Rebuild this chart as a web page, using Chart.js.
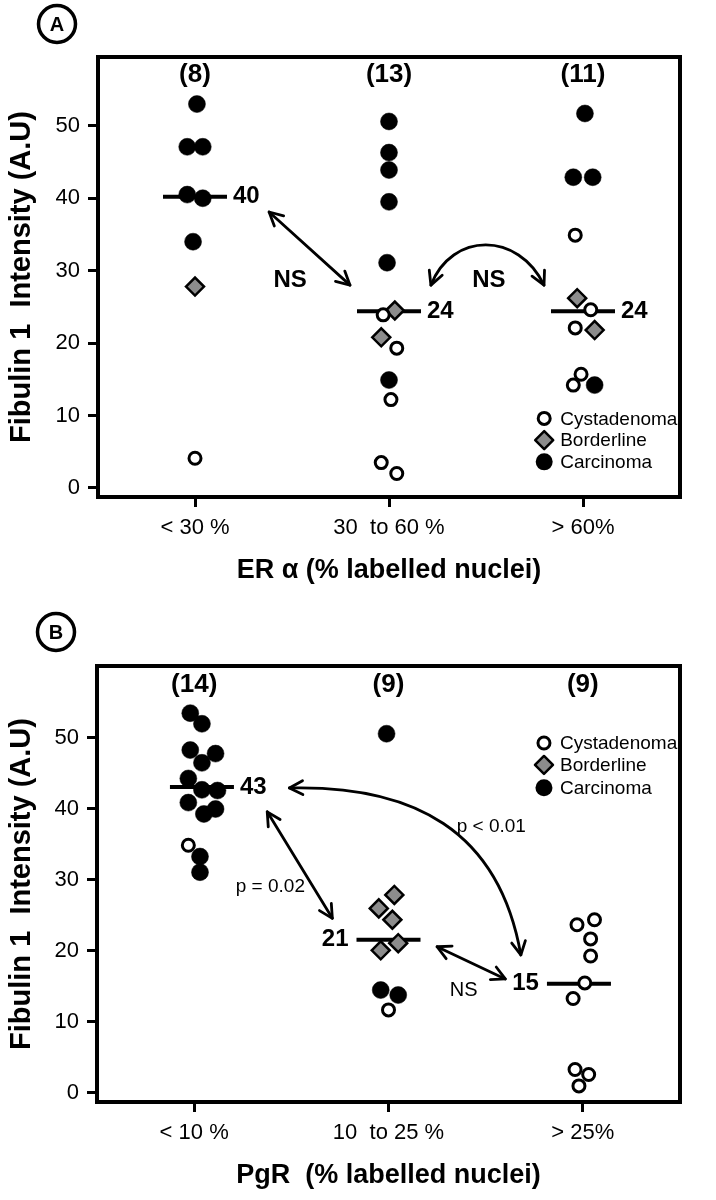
<!DOCTYPE html>
<html><head><meta charset="utf-8">
<script src="https://cdn.jsdelivr.net/npm/chart.js@4.4.1/dist/chart.umd.min.js"></script>
<style>
html,body{margin:0;padding:0;background:#fff;overflow:hidden;}
canvas{display:block;width:716px;height:600px;}
</style></head><body>
<canvas id="cA" width="716" height="600"></canvas>
<canvas id="cB" width="716" height="600"></canvas>
<script>
const FONT = "'Liberation Sans', Arial, Helvetica, sans-serif";

// ---------- Panel A : ER alpha ----------
const categoriesA = ['< 30 %', '30  to 60 %', '> 60%'];
const countsA = ['(8)', '(13)', '(11)'];
const mediansA = [40.2, 24.4, 24.4];
const medianLabelsA = ['40', '24', '24'];
const medianXA = [1.0, 2.0, 3.0];
const cystA_x = [1.00, 1.97, 2.04, 2.01, 1.96, 2.04, 2.96, 3.04, 2.96, 2.99, 2.95];
const cystA_y = [4.1, 23.9, 19.3, 12.2, 3.5, 2.0, 34.9, 24.6, 22.1, 15.7, 14.2];
const bordA_x = [1.00, 2.03, 1.96, 2.97, 3.06];
const bordA_y = [27.8, 24.5, 20.8, 26.2, 21.8];
const carcA_x = [1.01, 0.96, 1.04, 0.96, 1.04, 0.99, 2.00, 2.00, 2.00, 2.00, 1.99, 2.00, 3.01, 2.95, 3.05, 3.06];
const carcA_y = [53.0, 47.1, 47.1, 40.5, 40.0, 34.0, 50.6, 46.3, 43.9, 39.5, 31.1, 14.9, 51.7, 42.9, 42.9, 14.2];

// ---------- Panel B : PgR ----------
const categoriesB = ['< 10 %', '10  to 25 %', '> 25%'];
const countsB = ['(14)', '(9)', '(9)'];
const mediansB = [43.1, 21.6, 15.4];
const medianLabelsB = ['43', '21', '15'];
const medianXB = [1.04, 2.0, 2.98];
const cystB_x = [0.97, 2.00, 2.97, 3.06, 3.04, 3.04, 3.01, 2.95, 2.96, 3.03, 2.98];
const cystB_y = [34.9, 11.7, 23.7, 24.4, 21.7, 19.3, 15.5, 13.3, 3.3, 2.6, 1.0];
const bordB_x = [2.03, 1.95, 2.02, 1.96, 2.05];
const bordB_y = [27.9, 26.0, 24.4, 20.1, 21.1];
const carcB_x = [0.98, 1.04, 0.98, 1.11, 1.04, 0.97, 1.04, 1.12, 0.97, 1.05, 1.11, 1.03, 1.03, 1.99, 1.96, 2.05];
const carcB_y = [53.5, 52.0, 48.3, 47.8, 46.5, 44.3, 42.7, 42.6, 40.9, 39.3, 40.0, 33.3, 31.1, 50.6, 14.5, 13.8];

const yTicks = [0, 10, 20, 30, 40, 50];
const seriesNames = ['Cystadenoma', 'Borderline', 'Carcinoma'];

const zip = (xs, ys) => xs.map((x, i) => ({x: x, y: ys[i]}));

const panelA = {
  letter: 'A', letterPos: [57, 24],
  categories: categoriesA, counts: countsA, countY: 57.0,
  medians: mediansA, medianLabels: medianLabelsA, medianX: medianXA, medianSide: ['right', 'right', 'right'],
  cyst: zip(cystA_x, cystA_y), bord: zip(bordA_x, bordA_y), carc: zip(carcA_x, carcA_y),
  xTitle: 'ER \u03b1 (% labelled nuclei)', xTitlePad: 15.5,
  yMin: -1.25, yMax: 59.5, area: {left: 98, right: 711, top: 57, bottom: 497},
  legend: {x: 2.80, ys: [9.6, 6.6, 3.6]},
  arrows: [
    {type: 'line', pts: [[1.382, 38.1], [1.799, 28.0]]},
    {type: 'cubic', pts: [[2.216, 28.0], [2.324, 35.4], [2.667, 35.4], [2.799, 28.0]]}
  ],
  texts: [
    {t: 'NS', x: 1.49, y: 28.7, bold: true, size: 24},
    {t: 'NS', x: 2.515, y: 28.7, bold: true, size: 24}
  ]
};

const panelB = {
  letter: 'B', letterPos: [56, 32],
  categories: categoriesB, counts: countsB, countY: 57.5,
  medians: mediansB, medianLabels: medianLabelsB, medianX: medianXB, medianSide: ['right', 'left', 'left'],
  cyst: zip(cystB_x, cystB_y), bord: zip(bordB_x, bordB_y), carc: zip(carcB_x, carcB_y),
  xTitle: 'PgR  (% labelled nuclei)', xTitlePad: 10.5,
  yMin: -1.27, yMax: 60.14, area: {left: 97, right: 711, top: 66, bottom: 502},
  legend: {x: 2.80, ys: [49.3, 46.2, 43.0]},
  arrows: [
    {type: 'line', pts: [[1.376, 39.6], [1.711, 24.6]]},
    {type: 'cubic', pts: [[1.490, 42.96], [2.127, 43.38], [2.569, 37.04], [2.681, 19.44]]},
    {type: 'line', pts: [[2.25, 20.6], [2.601, 16.06]]}
  ],
  texts: [
    {t: 'p = 0.02', x: 1.392, y: 29.0, bold: false, size: 19},
    {t: 'p < 0.01', x: 2.529, y: 37.5, bold: false, size: 19},
    {t: 'NS', x: 2.387, y: 14.5, bold: false, size: 20}
  ]
};

function arrowHead(ctx, tx, ty, dx, dy) {
  const ang = Math.atan2(dy, dx);
  const L = 15, a = 0.48;
  ctx.beginPath();
  ctx.moveTo(tx - L * Math.cos(ang - a), ty - L * Math.sin(ang - a));
  ctx.lineTo(tx, ty);
  ctx.lineTo(tx - L * Math.cos(ang + a), ty - L * Math.sin(ang + a));
  ctx.stroke();
}

function drawMarker(ctx, kind, x, y) {
  ctx.save();
  ctx.strokeStyle = '#000';
  if (kind === 0) {
    ctx.beginPath(); ctx.arc(x, y, 6, 0, Math.PI * 2);
    ctx.fillStyle = '#fff'; ctx.fill(); ctx.lineWidth = 3; ctx.stroke();
  } else if (kind === 1) {
    ctx.beginPath(); ctx.moveTo(x, y - 9); ctx.lineTo(x + 9, y); ctx.lineTo(x, y + 9); ctx.lineTo(x - 9, y); ctx.closePath();
    ctx.fillStyle = '#8c8c8c'; ctx.fill(); ctx.lineWidth = 2.5; ctx.stroke();
  } else {
    ctx.beginPath(); ctx.arc(x, y, 8.5, 0, Math.PI * 2);
    ctx.fillStyle = '#000'; ctx.fill();
  }
  ctx.restore();
}

function makePlugin(P) {
  return {
    id: 'decor',
    afterDatasetsDraw(chart) {
      const {ctx, scales: {x, y}} = chart;
      const X = v => x.getPixelForValue(v), Y = v => y.getPixelForValue(v);
      ctx.save();
      ctx.fillStyle = '#000'; ctx.strokeStyle = '#000';
      ctx.textBaseline = 'middle';
      ctx.font = 'bold 26px ' + FONT; ctx.textAlign = 'center';
      P.counts.forEach((t, i) => ctx.fillText(t, X(i + 1), Y(P.countY)));
      ctx.font = 'bold 24px ' + FONT;
      P.medians.forEach((m, i) => {
        const cx = X(P.medianX[i]), cy = Y(m);
        if (P.medianSide[i] === 'right') { ctx.textAlign = 'left'; ctx.fillText(P.medianLabels[i], cx + 38, cy); }
        else { ctx.textAlign = 'right'; ctx.fillText(P.medianLabels[i], cx - 40, cy); }
      });
      ctx.lineWidth = 2.8; ctx.lineCap = 'round'; ctx.lineJoin = 'round';
      P.arrows.forEach(a => {
        const p = a.pts.map(q => [X(q[0]), Y(q[1])]);
        ctx.beginPath();
        ctx.moveTo(p[0][0], p[0][1]);
        if (a.type === 'line') ctx.lineTo(p[1][0], p[1][1]);
        else ctx.bezierCurveTo(p[1][0], p[1][1], p[2][0], p[2][1], p[3][0], p[3][1]);
        ctx.stroke();
        const n = p.length;
        arrowHead(ctx, p[0][0], p[0][1], p[0][0] - p[1][0], p[0][1] - p[1][1]);
        arrowHead(ctx, p[n - 1][0], p[n - 1][1], p[n - 1][0] - p[n - 2][0], p[n - 1][1] - p[n - 2][1]);
      });
      P.texts.forEach(t => {
        ctx.font = (t.bold ? 'bold ' : '') + t.size + 'px ' + FONT;
        ctx.textAlign = 'center';
        ctx.fillText(t.t, X(t.x), Y(t.y));
      });
      ctx.font = '19px ' + FONT; ctx.textAlign = 'left';
      seriesNames.forEach((s, i) => {
        const lx = X(P.legend.x), ly = Y(P.legend.ys[i]);
        drawMarker(ctx, i, lx, ly);
        ctx.fillStyle = '#000';
        ctx.fillText(s, lx + 16, ly + 1);
      });
      ctx.restore();
    },
    afterDraw(chart) {
      const {ctx, chartArea: ca} = chart;
      ctx.save();
      ctx.strokeStyle = '#000'; ctx.lineWidth = 4;
      ctx.strokeRect(ca.left, ca.top, ca.right - ca.left, ca.bottom - ca.top);
      const [cx, cy] = P.letterPos;
      ctx.beginPath(); ctx.arc(cx, cy, 18.5, 0, Math.PI * 2); ctx.lineWidth = 3.5; ctx.stroke();
      ctx.fillStyle = '#000'; ctx.font = 'bold 20px ' + FONT; ctx.textAlign = 'center'; ctx.textBaseline = 'middle';
      ctx.fillText(P.letter, cx, cy + 1);
      ctx.restore();
    }
  };
}

function build(id, P) {
  const W = 716, H = 600, A = P.area;
  const tickGrid = {display: true, drawOnChartArea: false, drawTicks: true, tickLength: 10, lineWidth: 3, color: '#000'};
  const chart = new Chart(document.getElementById(id), {
    type: 'scatter',
    data: {datasets: [
      {label: seriesNames[0], data: P.cyst, pointStyle: 'circle', pointRadius: 6, pointBorderWidth: 3,
        pointBackgroundColor: '#fff', pointBorderColor: '#000', order: 0},
      {label: seriesNames[1], data: P.bord, pointStyle: 'rectRot', pointRadius: 9, pointBorderWidth: 2.5,
        pointBackgroundColor: '#8c8c8c', pointBorderColor: '#000', order: 1},
      {label: seriesNames[2], data: P.carc, pointStyle: 'circle', pointRadius: 8.5, pointBorderWidth: 0.5,
        pointBackgroundColor: '#000', pointBorderColor: '#000', order: 2},
      {label: 'Median', data: zip(P.medianX, P.medians), pointStyle: 'line', pointRadius: 32, pointBorderWidth: 4,
        pointBorderColor: '#000', order: 3}
    ]},
    options: {
      responsive: false, maintainAspectRatio: false, animation: false, devicePixelRatio: 1, events: [],
      layout: {padding: {top: A.top, right: W - A.right, left: 0, bottom: 0}},
      plugins: {legend: {display: false}, tooltip: {enabled: false}},
      scales: {
        x: {
          type: 'linear', min: 0.5, max: 3.5,
          afterBuildTicks: s => { s.ticks = [1, 2, 3].map(v => ({value: v})); },
          afterFit: s => { s.height = H - A.bottom; s.paddingLeft = 0; s.paddingRight = 0; },
          ticks: {callback: v => P.categories[Math.round(v) - 1], font: {family: FONT, size: 22}, color: '#000',
            padding: 8, maxRotation: 0, autoSkip: false},
          grid: tickGrid, border: {display: false},
          title: {display: true, text: P.xTitle, color: '#000',
            font: {family: FONT, size: 27, weight: 'bold', lineHeight: 1}, padding: {top: 0, bottom: P.xTitlePad}}
        },
        y: {
          type: 'linear', min: P.yMin, max: P.yMax,
          afterBuildTicks: s => { s.ticks = yTicks.map(v => ({value: v})); },
          afterFit: s => { s.width = A.left; s.paddingTop = 0; s.paddingBottom = 0; },
          ticks: {font: {family: FONT, size: 22}, color: '#000', padding: 8},
          grid: tickGrid, border: {display: false},
          title: {display: true, text: 'Fibulin 1  Intensity (A.U)', color: '#000',
            font: {family: FONT, size: 29, weight: 'bold', lineHeight: 1}, padding: {top: 7, bottom: 0}}
        }
      }
    },
    plugins: [makePlugin(P)]
  });
  const ca = chart.chartArea;
  const dr = ca.right - A.right;
  if (Math.abs(dr) > 0.5) {
    chart.options.layout.padding.right += dr;
    chart.update();
  }
  return chart;
}

build('cA', panelA);
build('cB', panelB);
</script>
</body></html>
